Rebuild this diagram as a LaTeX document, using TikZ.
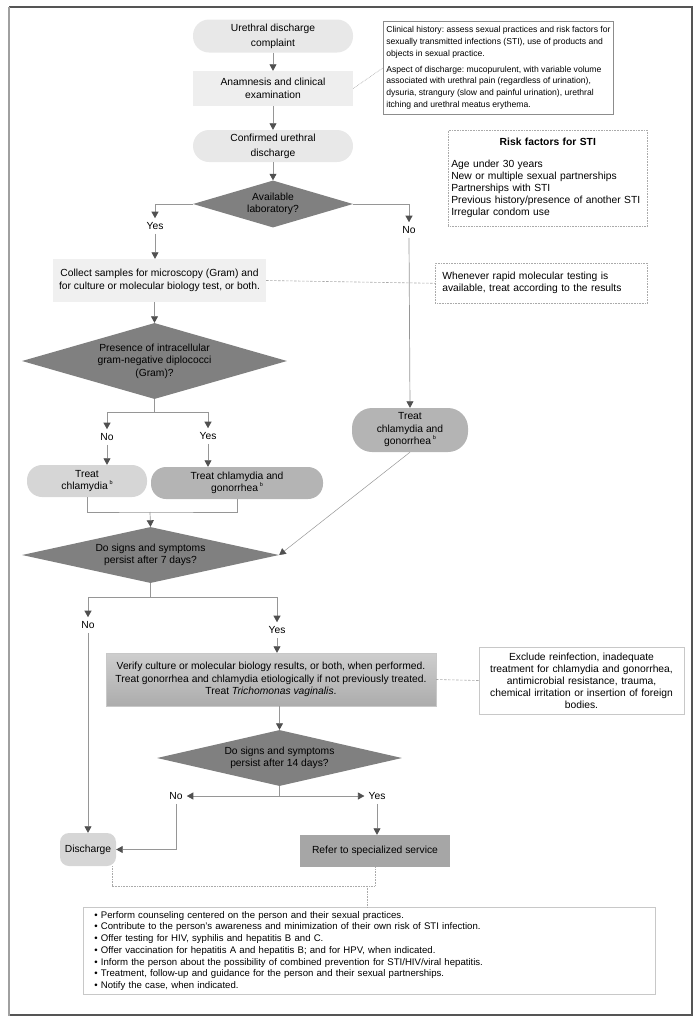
\documentclass[tikz,border=0pt]{standalone}
\usepackage{fontspec}
\setmainfont{Liberation Sans}
\usepackage{xcolor}
\usepackage{tikz}
\usetikzlibrary{shapes.geometric,arrows.meta,positioning,calc}
\definecolor{stadiumgray}{RGB}{232,232,232}
\definecolor{processgray}{RGB}{238,238,238}
\definecolor{collectgray}{RGB}{240,240,240}
\definecolor{decisiongray}{RGB}{128,128,128}
\definecolor{treatlight}{RGB}{214,214,214}
\definecolor{treatdark}{RGB}{180,180,180}
\definecolor{refergray}{RGB}{166,166,166}
\definecolor{verifytop}{RGB}{206,206,206}
\definecolor{verifybottom}{RGB}{172,172,172}
\definecolor{linegray}{RGB}{150,150,150}
\definecolor{tipgray}{RGB}{80,80,80}
\definecolor{linkgray}{RGB}{170,170,170}
\definecolor{noteedge}{RGB}{200,200,200}
\definecolor{historyedge}{RGB}{140,140,140}
\definecolor{framegray}{RGB}{85,85,85}
\definecolor{framelight}{RGB}{160,160,160}
\newcommand{\supb}{\,\raisebox{5pt}{\fontsize{5.5}{5.5}\selectfont b}}
\frenchspacing

\begin{document}
\begin{tikzpicture}[
        x=1pt, y=-1pt,
        flowtext/.style={font=\fontsize{10.3}{12.5}\selectfont, align=center, text=black, inner sep=0pt},
        stadium/.style={flowtext, rectangle, fill=stadiumgray, minimum width=160pt, minimum height=33pt, rounded corners=16pt},
        process/.style={flowtext, rectangle, fill=processgray, minimum width=160pt, minimum height=35pt},
        decision/.style={flowtext, diamond, fill=decisiongray},
        treatbox/.style={flowtext, rectangle, rounded corners=15pt, minimum height=32pt},
        answer/.style={font=\fontsize{10.3}{12}\selectfont, inner sep=4pt},
        note/.style={rectangle, font=\fontsize{10.3}{12}\selectfont, align=left, inner ysep=0pt},
        dotbox/.style={draw=linkgray, line width=0.6pt, dash pattern=on 0.7pt off 0.9pt},
        flowline/.style={draw=linegray, line width=0.7pt},
        flowarrow/.style={flowline, -{Triangle[width=7pt, length=6.5pt, color=tipgray]}},
        dashlink/.style={draw=linkgray, line width=0.6pt, dash pattern=on 2.5pt off 1.5pt},
        dotlink/.style={draw=linkgray, line width=0.6pt, dash pattern=on 0.7pt off 0.9pt},
    ]
        \useasboundingbox (0,0) rectangle (696,1021);
        \draw[framegray, line width=1.1pt] (9,7) -- (692,7) -- (692,1015) -- (9,1015);
        \draw[framelight, line width=2pt] (9,6.5) -- (9,1015.5);

        \node[stadium] (complaint) at (273,36) {Urethral discharge\\[2.5pt]complaint};
        \node[process] (anam) at (273,88.5) {Anamnesis and clinical\\examination};
        \node[stadium, minimum height=32pt] (confirm) at (273,146) {Confirmed urethral\\[2.5pt]discharge};
        \node[decision, minimum width=160pt, minimum height=47pt, aspect=3.4] (lab) at (273,204) {Available\\laboratory?};

        \node[answer] (yes1) at (155,226) {Yes};
        \node[answer] (no1) at (409,230) {No};

        \node[process, fill=collectgray, minimum width=213pt, minimum height=43pt] (collect) at (159.5,280.5) {Collect samples for microscopy (Gram) and\\for culture or molecular biology test, or both.};
        \node[decision, minimum width=265pt, minimum height=76pt, aspect=3.5] (gram) at (154.5,361) {Presence of intracellular\\gram-negative diplococci\\(Gram)?};

        \node[answer] (no2) at (107,437) {No};
        \node[answer] (yes2) at (208,436) {Yes};
        \node[treatbox, fill=treatlight, minimum width=120pt] (treatc) at (87,481) {Treat\\chlamydia\supb};
        \node[treatbox, fill=treatdark, minimum width=172pt] (treatcg) at (237,483) {Treat chlamydia and\\gonorrhea\supb};
        \node[treatbox, fill=treatdark, minimum width=116pt, minimum height=44pt, rounded corners=20pt] (treatr) at (410,430) {Treat\\chlamydia and\\gonorrhea\supb};

        \node[decision, minimum width=257pt, minimum height=56pt, aspect=4.6] (persist7) at (150.5,555) {Do signs and symptoms\\persist after 7 days?};
        \node[answer] (no3) at (88,625) {No};
        \node[answer] (yes3) at (277,630) {Yes};
        \node[process, top color=verifytop, bottom color=verifybottom, draw=noteedge, minimum width=330pt, minimum height=53pt] (verify) at (271,679.5) {Verify culture or molecular biology results, or both, when performed.\\Treat gonorrhea and chlamydia etiologically if not previously treated.\\Treat \textit{Trichomonas vaginalis}.};

        \node[decision, minimum width=245pt, minimum height=56pt, aspect=4.4] (persist14) at (279.5,758) {Do signs and symptoms\\persist after 14 days?};
        \node[answer] (no4) at (176,796) {No};
        \node[answer] (yes4) at (377,796) {Yes};
        \node[treatbox, fill=treatlight, minimum width=56pt, minimum height=33pt, rounded corners=9pt] (discharge) at (88,849.5) {Discharge};
        \node[process, fill=refergray, minimum width=150pt, minimum height=32pt] (refer) at (375,851) {Refer to specialized service};

        \node[note, draw=historyedge, line width=0.7pt, anchor=north west, inner xsep=3pt, minimum width=229pt, minimum height=93pt, font=\fontsize{8.6}{11.7}\selectfont] (history) at (383,21) {Clinical history: assess sexual practices and risk factors for\\
        sexually transmitted infections (STI), use of products and\\
        objects in sexual practice.\\[4pt]
        Aspect of discharge: mucopurulent, with variable volume\\
        associated with urethral pain (regardless of urination),\\
        dysuria, strangury (slow and painful urination), urethral\\
        itching and urethral meatus erythema.};
        \node[note, dotbox, anchor=north west, text width=193pt, inner xsep=3pt, minimum height=96pt] (risk) at (448,130) {\makebox[193pt][c]{\bfseries Risk factors for STI}\\[10pt]
        Age under 30 years\\
        New or multiple sexual partnerships\\
        Partnerships with STI\\
        Previous history/presence of another STI\\
        Irregular condom use};
        \node[note, dotbox, anchor=north west, text width=198pt, inner xsep=7pt, minimum height=40pt] (rapid) at (435,263) {Whenever rapid molecular testing is\\available, treat according to the results};
        \node[note, draw=noteedge, line width=0.7pt, align=center, text width=197pt, inner xsep=4pt, minimum height=67pt] (exclude) at (581.5,680.5) {Exclude reinfection, inadequate\\
        treatment for chlamydia and gonorrhea,\\
        antimicrobial resistance, trauma,\\
        chemical irritation or insertion of foreign\\
        bodies.};
        \node[note, draw=noteedge, line width=0.7pt, anchor=north west, text width=550pt, inner xsep=11pt, minimum height=87pt, font=\fontsize{9.6}{11.7}\selectfont] (care) at (83,907) {\textbullet\ Perform counseling centered on the person and their sexual practices.\\
        \textbullet\ Contribute to the person’s awareness and minimization of their own risk of STI infection.\\
        \textbullet\ Offer testing for HIV, syphilis and hepatitis B and C.\\
        \textbullet\ Offer vaccination for hepatitis A and hepatitis B; and for HPV, when indicated.\\
        \textbullet\ Inform the person about the possibility of combined prevention for STI/HIV/viral hepatitis.\\
        \textbullet\ Treatment, follow-up and guidance for the person and their sexual partnerships.\\
        \textbullet\ Notify the case, when indicated.};

        \coordinate (gramsplit) at (154.5,412);
        \coordinate (treatjoin) at (150,512);
        \coordinate (persist7split) at (150.5,597);
        \coordinate (persist14split) at (279.5,796);
        \coordinate (careline) at (367,886);

        \draw[flowarrow] (complaint) -- (anam);
        \draw[flowarrow] (anam) -- (confirm);
        \draw[flowarrow] (confirm) -- (lab);
        \draw[flowarrow] (lab.west) -| (yes1.north);
        \draw[flowarrow] (lab.east) -| (no1.north);
        \draw[flowarrow] (yes1.south) -- (yes1.south |- collect.north);
        \draw[flowarrow] (no1.south) -- (treatr.north);
        \draw[dashlink] (collect.east) -- (rapid.west);
        \draw[dotlink] (anam.east) -- (history.west);
        \draw[flowarrow] (gram.north |- collect.south) -- (gram.north);

        \draw[flowline] (gram.south) -- (gramsplit);
        \draw[flowarrow] (gramsplit) -| (no2.north);
        \draw[flowarrow] (gramsplit) -| (yes2.north);
        \draw[flowarrow] (no2.south) -- (no2.south |- treatc.north);
        \draw[flowarrow] (yes2.south) -- (yes2.south |- treatcg.north);
        \draw[flowline] (treatc.south) |- (treatjoin) -| (treatcg.south);
        \draw[flowarrow] (treatjoin) -- (persist7.north);
        \draw[flowarrow, line width=0.5pt] (treatr.south) -- (persist7.east);

        \draw[flowline] (persist7.south) -- (persist7split);
        \draw[flowarrow] (persist7split) -| (no3.north);
        \draw[flowarrow] (persist7split) -| (yes3.north);
        \draw[flowarrow] (yes3.south) -- (yes3.south |- verify.north);
        \draw[dashlink] (verify.east) -- (exclude.west);
        \draw[flowarrow] (persist14.north |- verify.south) -- (persist14.north);

        \draw[flowline] (persist14.south) -- (persist14split);
        \draw[flowarrow] (persist14split) -- (no4.east);
        \draw[flowarrow] (persist14split) -- (yes4.west);
        \draw[flowarrow] (no4.south) |- (discharge.east);
        \draw[flowarrow] (no3.south) -- (discharge.north);
        \draw[flowarrow] (yes4.south) -- (yes4.south |- refer.north);

        \draw[dotlink] ([xshift=24pt]discharge.south) |- (careline) -| (refer.south);
        \draw[dotlink] (careline) -- (careline |- care.north);
    \end{tikzpicture}
\end{document}
